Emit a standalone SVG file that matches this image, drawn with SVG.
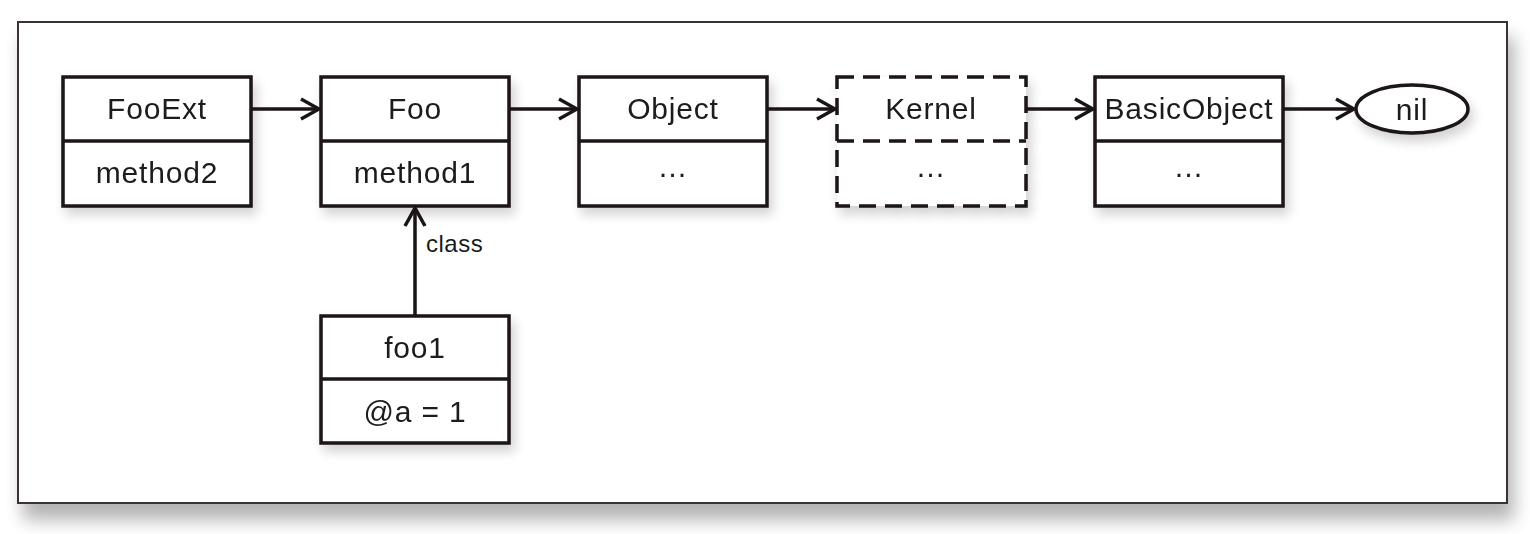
<svg xmlns="http://www.w3.org/2000/svg" width="1530" height="534" viewBox="0 0 1530 534">
<style>
.box{fill:#fff;stroke:#1a1414;stroke-width:3.5}
.dash{fill:#fff;stroke:#1a1414;stroke-width:3.5;stroke-dasharray:17 9}
.sep{stroke:#1a1414;stroke-width:3.5}
.sepd{stroke:#1a1414;stroke-width:3.5;stroke-dasharray:17 9}
.t{font-family:"Liberation Sans",Arial,sans-serif;font-size:30px;letter-spacing:0.8px;fill:#1a1a1a;text-anchor:middle}
.lbl{font-family:"Liberation Sans",Arial,sans-serif;font-size:24px;letter-spacing:0.5px;fill:#1a1a1a}
.con{stroke:#1a1414;stroke-width:3.5;fill:none}
</style>
<defs>
<filter id="sh" x="-20%" y="-20%" width="150%" height="160%">
<feGaussianBlur in="SourceAlpha" stdDeviation="6"/>
<feOffset dx="4" dy="7" result="b"/>
<feComponentTransfer><feFuncA type="linear" slope="0.18"/></feComponentTransfer>
<feMerge><feMergeNode/><feMergeNode in="SourceGraphic"/></feMerge>
</filter>
<filter id="fsh" x="-5%" y="-10%" width="110%" height="125%">
<feGaussianBlur in="SourceAlpha" stdDeviation="9"/>
<feOffset dx="6" dy="16"/>
<feComponentTransfer><feFuncA type="linear" slope="0.3"/></feComponentTransfer>
<feMerge><feMergeNode/><feMergeNode in="SourceGraphic"/></feMerge>
</filter>
<marker id="ar" markerWidth="22" markerHeight="24" refX="19" refY="12" orient="auto" markerUnits="userSpaceOnUse">
<path d="M1,2 L19,12 L1,22" fill="none" stroke="#1a1414" stroke-width="3.5"/>
</marker>
</defs>
<rect width="1530" height="534" fill="#fff"/>
<rect id="frame" x="18" y="22" width="1489" height="481" fill="#fff" stroke="#3a3333" stroke-width="2" filter="url(#fsh)"/>

<g id="FooExt" filter="url(#sh)">
<rect class="box" x="63" y="77" width="188" height="129"/>
<line class="sep" x1="63" y1="141" x2="251" y2="141"/>
<text class="t" x="157" y="119">FooExt</text>
<text class="t" x="157" y="183">method2</text>
</g>
<g id="Foo" filter="url(#sh)">
<rect class="box" x="321" y="77" width="188" height="129"/>
<line class="sep" x1="321" y1="141" x2="509" y2="141"/>
<text class="t" x="415" y="119">Foo</text>
<text class="t" x="415" y="183">method1</text>
</g>
<g id="Object" filter="url(#sh)">
<rect class="box" x="579" y="77" width="188" height="129"/>
<line class="sep" x1="579" y1="141" x2="767" y2="141"/>
<text class="t" x="673" y="119">Object</text>
<text class="t" x="673" y="177">…</text>
</g>
<g id="Kernel" filter="url(#sh)">
<rect class="dash" x="837" y="77" width="189" height="129"/>
<line class="sepd" x1="837" y1="141" x2="1026" y2="141"/>
<text class="t" x="931" y="119">Kernel</text>
<text class="t" x="931" y="177">…</text>
</g>
<g id="BasicObject" filter="url(#sh)">
<rect class="box" x="1095" y="77" width="188" height="129"/>
<line class="sep" x1="1095" y1="141" x2="1283" y2="141"/>
<text class="t" x="1189" y="119">BasicObject</text>
<text class="t" x="1189" y="177">…</text>
</g>
<g id="nil" filter="url(#sh)">
<ellipse class="box" cx="1412" cy="109" rx="56" ry="24"/>
<text class="t" x="1412" y="120">nil</text>
</g>
<g id="foo1" filter="url(#sh)">
<rect class="box" x="321" y="316" width="188" height="127"/>
<line class="sep" x1="321" y1="379" x2="509" y2="379"/>
<text class="t" x="415" y="358">foo1</text>
<text class="t" x="415" y="422">@a = 1</text>
</g>

<g id="connectors">
<line class="con" x1="251" y1="109" x2="319" y2="109" marker-end="url(#ar)"/>
<line class="con" x1="509" y1="109" x2="577" y2="109" marker-end="url(#ar)"/>
<line class="con" x1="767" y1="109" x2="835" y2="109" marker-end="url(#ar)"/>
<line class="con" x1="1026" y1="109" x2="1093" y2="109" marker-end="url(#ar)"/>
<line class="con" x1="1283" y1="109" x2="1354" y2="109" marker-end="url(#ar)"/>
<line class="con" x1="415" y1="316" x2="415" y2="208" marker-end="url(#ar)"/>
<text class="lbl" x="426" y="252">class</text>
</g>
</svg>
